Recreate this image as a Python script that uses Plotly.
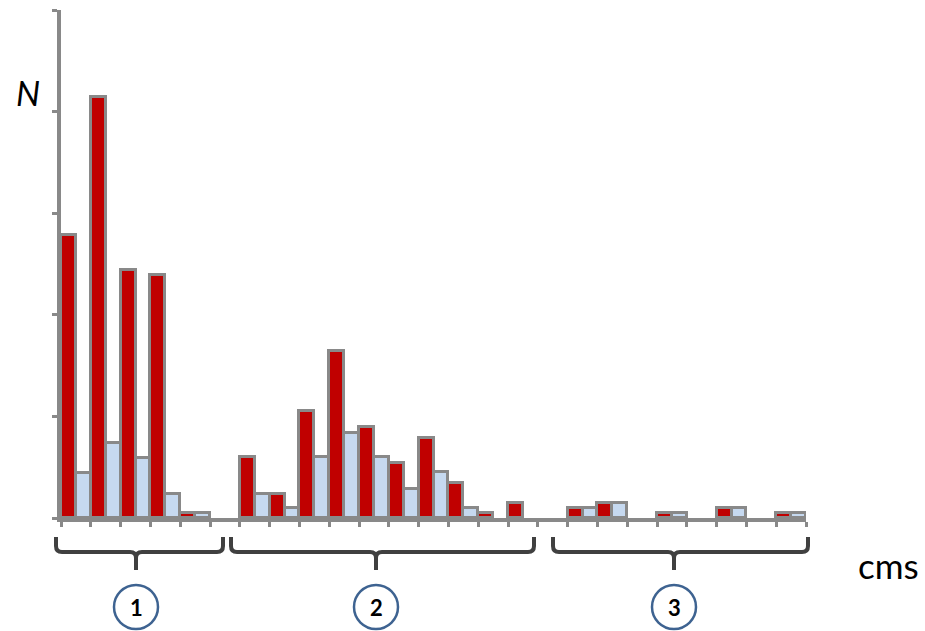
import plotly.graph_objects as go

# ---- data ----
categories = list(range(25))
red_values = [27.9, 41.4, 24.4, 23.9, 0.5, None, 6.0, 2.4, 10.5, 16.4, 9.0, 5.4, 7.9,
              3.4, 0.5, 1.5, None, 1.0, 1.5, None, 0.5, None, 1.0, None, 0.5]
blue_values = [4.4, 7.4, 5.9, 2.4, 0.5, None, 2.4, 1.0, 6.0, 8.4, 6.0, 2.9, 4.5,
               1.0, None, None, None, 1.0, 1.5, None, 0.5, None, 1.0, None, 0.5]
y_ticks = [0, 10, 20, 30, 40, 50]
group_labels = ["1", "2", "3"]

# ---- layout geometry (pixels) ----
W, H = 925, 631
L, R, T, B = 61, 806, 10, 518


def px(x):
    return (x - L) / (R - L)


def py(y):
    return (B - y) / (B - T)


GRAY = "#898989"
fig = go.Figure()
fig.add_trace(go.Bar(x=categories, y=red_values, marker=dict(color="#c00000", line=dict(color=GRAY, width=3)),
                     showlegend=False, hoverinfo="skip"))
fig.add_trace(go.Bar(x=categories, y=blue_values, marker=dict(color="#c6d9f0", line=dict(color=GRAY, width=3)),
                     showlegend=False, hoverinfo="skip"))

shapes = []
annotations = []
braces = [(56, 223, 136), (231, 534, 376), (553, 808, 674)]
for (xl, xr, xc), lab in zip(braces, group_labels):
    y0, y1, y2, r = 537, 552, 570, 6
    path = (f"M {px(xl)},{py(y0)} L {px(xl)},{py(y1 - r)} Q {px(xl)},{py(y1)} {px(xl + r)},{py(y1)} "
            f"L {px(xc - r)},{py(y1)} Q {px(xc)},{py(y1)} {px(xc)},{py(y1 + r)} L {px(xc)},{py(y2)} "
            f"M {px(xc)},{py(y1 + r)} Q {px(xc)},{py(y1)} {px(xc + r)},{py(y1)} "
            f"L {px(xr - r)},{py(y1)} Q {px(xr)},{py(y1)} {px(xr)},{py(y1 - r)} L {px(xr)},{py(y0)}")
    shapes.append(dict(type="path", xref="paper", yref="paper", path=path,
                       line=dict(color="#404040", width=4)))
    cy, rad = 607, 22
    shapes.append(dict(type="circle", xref="paper", yref="paper",
                       x0=px(xc - rad), x1=px(xc + rad), y0=py(cy + rad), y1=py(cy - rad),
                       line=dict(color="#3e6391", width=2.5), fillcolor="white"))
    annotations.append(dict(x=px(xc), y=py(cy), xref="paper", yref="paper", text=f"<b>{lab}</b>",
                            showarrow=False, font=dict(size=22, color="black", family="Lato"),
                            xanchor="center", yanchor="middle"))

annotations.append(dict(x=px(28), y=py(92), xref="paper", yref="paper", text="<i>N</i>", showarrow=False,
                        font=dict(size=34, color="black", family="Lato"), xanchor="center", yanchor="middle"))
annotations.append(dict(x=px(888), y=py(565), xref="paper", yref="paper", text="cms", showarrow=False,
                        font=dict(size=35, color="black", family="Lato"), xanchor="center", yanchor="middle"))

fig.update_layout(
    width=W, height=H,
    margin=dict(l=L, r=W - R, t=T, b=H - B),
    paper_bgcolor="white", plot_bgcolor="white",
    barmode="group", bargap=0, bargroupgap=0,
    shapes=shapes, annotations=annotations,
    xaxis=dict(range=[-0.5, 24.5], tickvals=[c - 0.5 for c in categories] + [24.5],
               showticklabels=False, ticks="outside", ticklen=5, tickwidth=3, tickcolor=GRAY,
               showline=True, linecolor=GRAY, linewidth=4, showgrid=False, zeroline=False, fixedrange=True),
    yaxis=dict(range=[0, 50], tickvals=y_ticks, showticklabels=False, ticks="outside", ticklen=5,
               tickwidth=3, tickcolor=GRAY, showline=True, linecolor=GRAY, linewidth=4,
               showgrid=False, zeroline=False, fixedrange=True),
)
fig.write_html("out.html", config={"displayModeBar": False},
               post_script="document.body.style.margin='0';document.body.style.overflow='hidden';")
